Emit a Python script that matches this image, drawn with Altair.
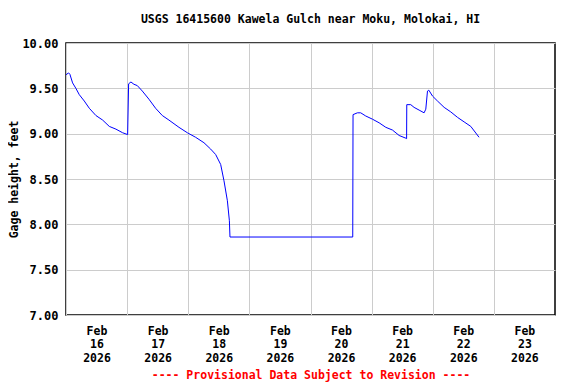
import altair as alt
import pandas as pd

times = [
    "2026-02-16T00:00", "2026-02-16T01:01", "2026-02-16T01:32", "2026-02-16T02:35",
    "2026-02-16T03:53", "2026-02-16T05:13", "2026-02-16T07:11", "2026-02-16T09:09",
    "2026-02-16T11:45", "2026-02-16T14:23", "2026-02-16T17:00", "2026-02-16T19:36",
    "2026-02-16T22:14", "2026-02-17T00:12", "2026-02-17T00:35", "2026-02-17T01:30",
    "2026-02-17T02:40", "2026-02-17T04:00", "2026-02-17T05:58", "2026-02-17T08:34",
    "2026-02-17T11:11", "2026-02-17T13:49", "2026-02-17T16:25", "2026-02-17T20:21",
    "2026-02-17T23:39", "2026-02-18T02:54", "2026-02-18T06:10", "2026-02-18T08:48",
    "2026-02-18T10:46", "2026-02-18T12:44", "2026-02-18T14:02", "2026-02-18T15:22",
    "2026-02-18T16:09", "2026-02-18T16:23", "2026-02-20T16:35", "2026-02-20T16:42",
    "2026-02-20T18:25", "2026-02-20T19:43", "2026-02-20T21:41", "2026-02-21T00:19",
    "2026-02-21T02:56", "2026-02-21T05:34", "2026-02-21T08:11", "2026-02-21T10:48",
    "2026-02-21T13:26", "2026-02-21T13:44", "2026-02-21T13:48", "2026-02-21T15:22",
    "2026-02-21T16:40", "2026-02-21T18:38", "2026-02-21T20:36", "2026-02-21T21:16",
    "2026-02-21T21:56", "2026-02-21T22:27", "2026-02-21T23:54", "2026-02-22T01:52",
    "2026-02-22T04:28", "2026-02-22T07:05", "2026-02-22T09:43", "2026-02-22T12:19",
    "2026-02-22T14:56", "2026-02-22T18:11",
]
gage = [
    9.65, 9.67, 9.655, 9.56,
    9.50, 9.43, 9.36, 9.28,
    9.20, 9.15, 9.08, 9.05,
    9.01, 8.99, 9.55, 9.57,
    9.545, 9.53, 9.47, 9.38,
    9.28, 9.20, 9.15, 9.07,
    9.01, 8.96, 8.90, 8.83,
    8.77, 8.66, 8.48, 8.26,
    8.04, 7.86, 7.86, 9.21,
    9.23, 9.23, 9.195, 9.16,
    9.12, 9.07, 9.04, 8.98,
    8.95, 8.945, 9.32, 9.32,
    9.29, 9.26, 9.23, 9.27,
    9.47, 9.48, 9.415, 9.36,
    9.29, 9.24, 9.18, 9.13,
    9.08, 8.96,
]
day_ticks = [
    "2026-02-16T00:00", "2026-02-17T00:00", "2026-02-18T00:00", "2026-02-19T00:00",
    "2026-02-20T00:00", "2026-02-21T00:00", "2026-02-22T00:00", "2026-02-23T00:00",
]
x_domain = ["2026-02-16T00:00", "2026-02-24T00:00"]
y_ticks = [7.0, 7.5, 8.0, 8.5, 9.0, 9.5, 10.0]

df = pd.DataFrame({"time": times, "gage": gage})

FONT = "DejaVu Sans Mono"

def dt(s):
    d, t = s.split("T")
    y, m, dd = d.split("-")
    hh, mm = t.split(":")
    return alt.DateTime(year=int(y), month=int(m), date=int(dd), hours=int(hh), minutes=int(mm))

chart = alt.Chart(df).mark_line(color="#0000ff", strokeWidth=1).encode(
    x=alt.X(
        "time:T",
        scale=alt.Scale(domain=[dt(s) for s in x_domain]),
        axis=alt.Axis(
            values=[dt(s) for s in day_ticks],
            labelExpr="[timeFormat(datum.value, '%b'), timeFormat(datum.value, '%d'), timeFormat(datum.value, '%Y')]",
            labelOffset=30.5,
            labelAlign="center",
            labelFont=FONT, labelFontSize=11.5, labelFontWeight="bold", labelColor="black",
            labelLineHeight=13.5, labelPadding=10,
            ticks=False, domain=False,
            gridColor="#cccccc", gridWidth=1,
            title="---- Provisional Data Subject to Revision ----",
            titleColor="#ff0000", titleFont=FONT, titleFontSize=11.5, titleFontWeight="bold",
            titlePadding=6,
        ),
    ),
    y=alt.Y(
        "gage:Q",
        scale=alt.Scale(domain=[7, 10], nice=False, zero=False),
        axis=alt.Axis(
            values=y_ticks, format=".2f",
            labelFont=FONT, labelFontSize=12, labelFontWeight="bold", labelColor="black",
            labelPadding=8,
            ticks=False, domain=False,
            gridColor="#cccccc", gridWidth=1,
            title="Gage height, feet",
            titleFont=FONT, titleFontSize=11.5, titleFontWeight="bold", titleColor="black",
            titlePadding=2,
        ),
    ),
).properties(
    width=489, height=272,
    padding={"left": 0, "top": 5, "right": 5, "bottom": 5},
    title=alt.TitleParams(
        "USGS 16415600 Kawela Gulch near Moku, Molokai, HI",
        font=FONT, fontSize=11.5, fontWeight="bold", color="black", offset=12,
    ),
).configure(
    background="white",
    view=alt.ViewConfig(stroke="black", strokeWidth=1.5),
)

chart.save("out.html", embed_options={"renderer": "svg", "actions": False})
